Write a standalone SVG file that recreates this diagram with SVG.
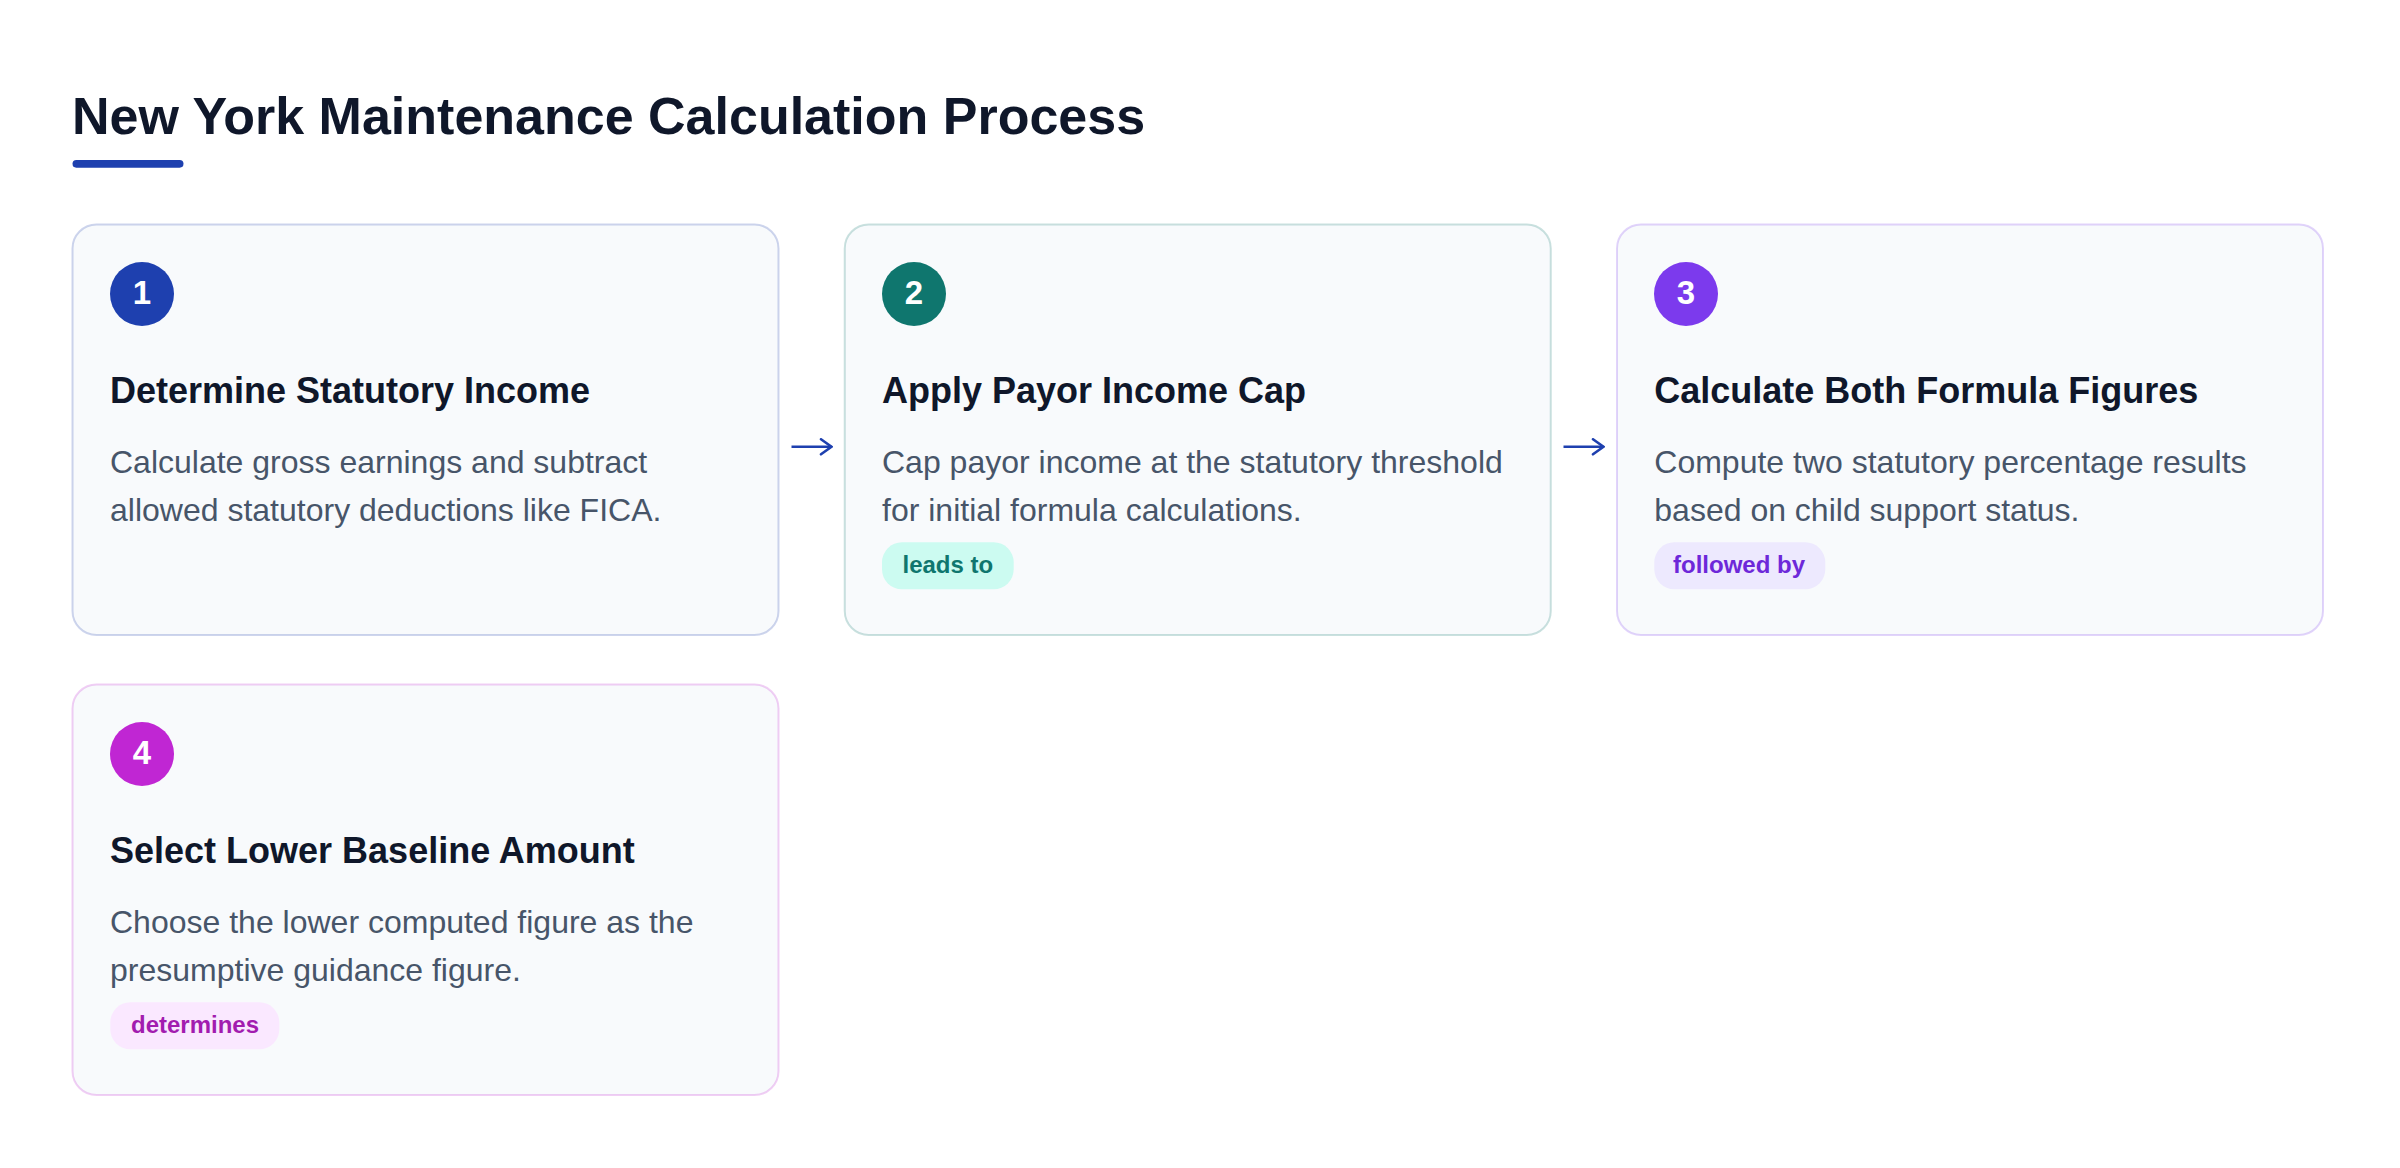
<svg xmlns="http://www.w3.org/2000/svg" width="2400" height="1168" viewBox="0 0 2400 1168">
  <defs>
    <style>
      .title { font-family: "Liberation Sans", Arial, sans-serif; font-weight: 700; font-size: 52px; fill: #0f172a; }
      .card { fill: #f8fafc; stroke-width: 2; }
      .num { font-family: "Liberation Sans", Arial, sans-serif; font-weight: 700; font-size: 33px; fill: #ffffff; text-anchor: middle; }
      .head { font-family: "Liberation Sans", Arial, sans-serif; font-weight: 700; font-size: 36px; fill: #0f172a; }
      .desc { font-family: "Liberation Sans", Arial, sans-serif; font-size: 32px; fill: #475569; }
      .badge { font-family: "Liberation Sans", Arial, sans-serif; font-weight: 700; font-size: 24px; }
      .conn { stroke: #1e40af; stroke-width: 2.6; fill: none; stroke-linecap: butt; }
    </style>
    <marker id="arrow" viewBox="0 0 14 18" refX="12.5" refY="9" markerWidth="14" markerHeight="18" markerUnits="userSpaceOnUse" orient="auto">
      <path d="M2,1.5 L12.5,9 L2,16.5" fill="none" stroke="#1e40af" stroke-width="2.6" stroke-linecap="round" stroke-linejoin="miter"/>
    </marker>
  </defs>
  <rect x="0" y="0" width="2400" height="1168" fill="#ffffff"/>

  <g id="header">
    <text class="title" x="72" y="134">New York Maintenance Calculation Process</text>
    <rect x="72.5" y="160" width="111" height="7.7" rx="3.85" fill="#1e40af"/>
  </g>

  <g id="step1">
    <rect class="card" x="72.5" y="224.5" width="706" height="410.5" rx="24" stroke="#1e40af" stroke-opacity="0.22"/>
    <circle cx="142" cy="294" r="32" fill="#1e40af"/>
    <text class="num" x="142" y="303.5">1</text>
    <text class="head" x="110" y="403.3">Determine Statutory Income</text>
    <text class="desc" x="110" y="473.3">Calculate gross earnings and subtract</text>
    <text class="desc" x="110" y="521.3">allowed statutory deductions like FICA.</text>
  </g>

  <g id="step2">
    <rect class="card" x="844.75" y="224.5" width="706" height="410.5" rx="24" stroke="#0f766e" stroke-opacity="0.22"/>
    <circle cx="914" cy="294" r="32" fill="#0f766e"/>
    <text class="num" x="914" y="303.5">2</text>
    <text class="head" x="882" y="403.3">Apply Payor Income Cap</text>
    <text class="desc" x="882" y="473.3">Cap payor income at the statutory threshold</text>
    <text class="desc" x="882" y="521.3">for initial formula calculations.</text>
    <rect x="882" y="542.3" width="131.7" height="47" rx="20" fill="#ccfbf1"/>
    <text class="badge" x="902.5" y="572.7" fill="#0f766e">leads to</text>
  </g>

  <g id="step3">
    <rect class="card" x="1617" y="224.5" width="706" height="410.5" rx="24" stroke="#7c3aed" stroke-opacity="0.22"/>
    <circle cx="1686" cy="294" r="32" fill="#7c3aed"/>
    <text class="num" x="1686" y="303.5">3</text>
    <text class="head" x="1654.3" y="403.3">Calculate Both Formula Figures</text>
    <text class="desc" x="1654.3" y="473.3">Compute two statutory percentage results</text>
    <text class="desc" x="1654.3" y="521.3">based on child support status.</text>
    <rect x="1654.3" y="542.3" width="171" height="47" rx="20" fill="#ede9fe"/>
    <text class="badge" x="1673" y="572.7" fill="#6d28d9">followed by</text>
  </g>

  <g id="step4">
    <rect class="card" x="72.5" y="684.5" width="706" height="410.5" rx="24" stroke="#c026d3" stroke-opacity="0.22"/>
    <circle cx="142" cy="754" r="32" fill="#c026d3"/>
    <text class="num" x="142" y="763.5">4</text>
    <text class="head" x="110" y="863.3">Select Lower Baseline Amount</text>
    <text class="desc" x="110" y="933.3">Choose the lower computed figure as the</text>
    <text class="desc" x="110" y="981.3">presumptive guidance figure.</text>
    <rect x="110.3" y="1002.3" width="169" height="47" rx="20" fill="#fae8ff"/>
    <text class="badge" x="131" y="1032.7" fill="#a21caf">determines</text>
  </g>

  <g id="connectors">
    <line class="conn" x1="791.5" y1="446.8" x2="831.5" y2="446.8" marker-end="url(#arrow)"/>
    <line class="conn" x1="1563.5" y1="446.8" x2="1603.5" y2="446.8" marker-end="url(#arrow)"/>
  </g>
</svg>
